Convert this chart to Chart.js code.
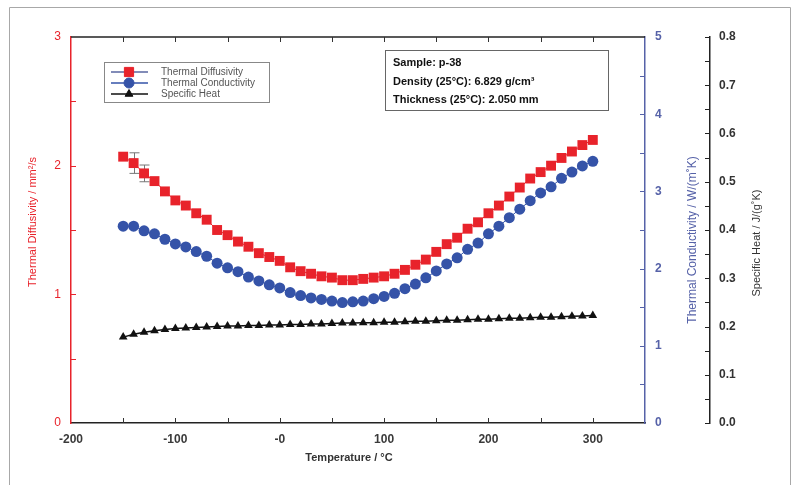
<!DOCTYPE html>
<html>
<head>
<meta charset="utf-8">
<script src="https://cdn.jsdelivr.net/npm/chart.js@4.4.0/dist/chart.umd.min.js"></script>
<style>
  html, body { margin: 0; padding: 0; background: #fff; }
  canvas { display: block; }
</style>
</head>
<body>
<canvas id="grafico" width="797" height="485"></canvas>
<script>
const temperaturas = [-150, -140, -130, -120, -110, -100, -90, -80, -70, -60, -50, -40, -30, -20, -10,
  0, 10, 20, 30, 40, 50, 60, 70, 80, 90, 100, 110, 120, 130, 140, 150, 160, 170, 180, 190,
  200, 210, 220, 230, 240, 250, 260, 270, 280, 290, 300];

const difusividade = [2.07, 2.02, 1.94, 1.88, 1.80, 1.73, 1.69, 1.63, 1.58, 1.50, 1.46, 1.41, 1.37, 1.32, 1.29,
  1.26, 1.21, 1.18, 1.16, 1.14, 1.13, 1.11, 1.11, 1.12, 1.13, 1.14, 1.16, 1.19, 1.23, 1.27, 1.33, 1.39, 1.44, 1.51, 1.56,
  1.63, 1.69, 1.76, 1.83, 1.90, 1.95, 2.00, 2.06, 2.11, 2.16, 2.20];

const condutividade = [2.55, 2.55, 2.49, 2.45, 2.38, 2.32, 2.28, 2.22, 2.16, 2.07, 2.01, 1.96, 1.89, 1.84, 1.79,
  1.75, 1.69, 1.65, 1.62, 1.60, 1.58, 1.56, 1.57, 1.58, 1.61, 1.64, 1.68, 1.74, 1.80, 1.88, 1.97, 2.06, 2.14, 2.25, 2.33,
  2.45, 2.55, 2.66, 2.77, 2.88, 2.98, 3.06, 3.17, 3.25, 3.33, 3.39];

const calorEspecifico = [0.178, 0.184, 0.188, 0.191, 0.194, 0.196, 0.197, 0.198, 0.199, 0.200, 0.201, 0.201, 0.202, 0.202, 0.203,
  0.203, 0.204, 0.204, 0.205, 0.205, 0.206, 0.207, 0.207, 0.208, 0.208, 0.209, 0.209, 0.210, 0.211, 0.211, 0.212, 0.213, 0.213, 0.214, 0.215,
  0.215, 0.216, 0.217, 0.217, 0.218, 0.219, 0.219, 0.220, 0.221, 0.222, 0.223];

// barras de erro da difusividade
const erroTemp = [-140, -130];
const erroValor = [0.08, 0.065];

const xTicks = [-200, -100, 0, 100, 200, 300];
const xTickLabels = ['-200', '-100', '-0', '100', '200', '300'];
const difTicks = [0, 1, 2, 3];
const condTicks = [0, 1, 2, 3, 4, 5];
const cpTicks = [0, 0.1, 0.2, 0.3, 0.4, 0.5, 0.6, 0.7, 0.8];
const cpTickLabels = ['0.0', '0.1', '0.2', '0.3', '0.4', '0.5', '0.6', '0.7', '0.8'];

const legenda = ['Thermal Diffusivity', 'Thermal Conductivity', 'Specific Heat'];
const infoAmostra = ['Sample: p-38', 'Density (25\u00b0C): 6.829 g/cm\u00b3', 'Thickness (25\u00b0C): 2.050 mm'];

const VERMELHO = '#e8232b';
const AZUL = '#3553a8';
const AZUL_EIXO = '#5662a8';
const FONTE = '"Liberation Sans", Arial, sans-serif';

function pontos(valores) {
  return temperaturas.map((t, i) => ({ x: t, y: valores[i] }));
}

function fixarTicks(lista) {
  return scale => { scale.ticks = lista.map(v => ({ value: v })); };
}

// ticks para dentro, moldura, titulos, legenda e caixa de texto
const desenhoExtra = {
  id: 'desenhoExtra',
  beforeDraw(chart) {
    const c = chart.ctx;
    c.save();
    c.strokeStyle = '#a8a8a8';
    c.lineWidth = 1;
    c.beginPath();
    c.moveTo(9.5, 485);
    c.lineTo(9.5, 7.5);
    c.lineTo(790.5, 7.5);
    c.lineTo(790.5, 485);
    c.stroke();
    c.restore();
  },
  beforeDatasetsDraw(chart) {
    const c = chart.ctx;
    const sx = chart.scales.x, sy = chart.scales.y;
    c.save();
    c.strokeStyle = '#777';
    c.lineWidth = 1;
    erroTemp.forEach((t, i) => {
      const v = difusividade[temperaturas.indexOf(t)];
      const px = Math.round(sx.getPixelForValue(t)) + 0.5;
      const y1 = sy.getPixelForValue(v + erroValor[i]);
      const y2 = sy.getPixelForValue(v - erroValor[i]);
      c.beginPath();
      c.moveTo(px, y1); c.lineTo(px, y2);
      c.moveTo(px - 5, y1); c.lineTo(px + 5, y1);
      c.moveTo(px - 5, y2); c.lineTo(px + 5, y2);
      c.stroke();
    });
    c.restore();
  },
  afterDraw(chart) {
    const c = chart.ctx;
    const a = chart.chartArea;
    const sx = chart.scales.x, sy = chart.scales.y, sk = chart.scales.y1, sc = chart.scales.y2;
    c.save();

    // linha superior
    c.strokeStyle = '#222';
    c.lineWidth = 1.5;
    c.beginPath();
    c.moveTo(a.left, a.top); c.lineTo(a.right, a.top);
    c.stroke();

    // ticks eixo x (baixo e cima)
    c.lineWidth = 1;
    c.strokeStyle = '#333';
    c.beginPath();
    for (let v = -150; v < 350; v += 50) {
      const px = Math.round(sx.getPixelForValue(v)) + 0.5;
      c.moveTo(px, a.bottom); c.lineTo(px, a.bottom - 5);
      c.moveTo(px, a.top); c.lineTo(px, a.top + 5);
    }
    c.stroke();

    // ticks esquerda
    c.strokeStyle = VERMELHO;
    c.beginPath();
    for (let v = 0.5; v < 3; v += 0.5) {
      const py = Math.round(sy.getPixelForValue(v)) + 0.5;
      c.moveTo(a.left, py); c.lineTo(a.left + 5, py);
    }
    c.stroke();

    // ticks azul
    c.strokeStyle = AZUL_EIXO;
    c.beginPath();
    for (let v = 0.5; v < 5; v += 0.5) {
      const py = Math.round(sk.getPixelForValue(v)) + 0.5;
      c.moveTo(sk.left, py); c.lineTo(sk.left - 5, py);
    }
    c.stroke();

    // ticks calor especifico
    c.strokeStyle = '#222';
    c.beginPath();
    for (let i = 0; i <= 16; i++) {
      const py = Math.round(sc.getPixelForValue(i * 0.05)) + 0.5;
      c.moveTo(sc.left, py); c.lineTo(sc.left - 5, py);
    }
    c.stroke();

    // titulos
    c.textAlign = 'center';
    c.textBaseline = 'middle';
    c.fillStyle = '#333';
    c.font = 'bold 11px ' + FONTE;
    c.fillText('Temperature / \u00b0C', 349, 458);

    c.save();
    c.translate(33, 222);
    c.rotate(-Math.PI / 2);
    c.fillStyle = VERMELHO;
    c.font = '11px ' + FONTE;
    c.fillText('Thermal Diffusivity / mm\u00b2/s', 0, 0);
    c.restore();

    c.save();
    c.translate(693, 240);
    c.rotate(-Math.PI / 2);
    c.fillStyle = AZUL_EIXO;
    c.font = '12px ' + FONTE;
    c.fillText('Thermal Conductivity / W/(m\u02daK)', 0, 0);
    c.restore();

    c.save();
    c.translate(757, 243);
    c.rotate(-Math.PI / 2);
    c.fillStyle = '#333';
    c.font = '11px ' + FONTE;
    c.fillText('Specific Heat / J/(g\u02daK)', 0, 0);
    c.restore();

    // legenda
    c.strokeStyle = '#888';
    c.lineWidth = 1;
    c.strokeRect(104.5, 62.5, 165, 40);
    const linhas = ['#5866a0', AZUL, '#111'];
    const estilos = ['rect', 'circle', 'triangle'];
    const cores = [VERMELHO, AZUL, '#111'];
    const raios = [6.5, 5, 4.5];
    legenda.forEach((txt, i) => {
      const py = 72 + i * 11;
      c.strokeStyle = linhas[i];
      c.lineWidth = 1.5;
      c.beginPath();
      c.moveTo(111, py); c.lineTo(148, py);
      c.stroke();
      c.fillStyle = cores[i];
      c.strokeStyle = cores[i];
      c.lineWidth = 1;
      Chart.helpers.drawPoint(c, { pointStyle: estilos[i], radius: raios[i], borderWidth: 1 }, 129, py);
      c.fillStyle = '#555';
      c.font = '10px ' + FONTE;
      c.textAlign = 'left';
      c.fillText(txt, 161, py);
    });

    // caixa de informacoes
    c.strokeStyle = '#666';
    c.lineWidth = 1;
    c.strokeRect(385.5, 50.5, 223, 60);
    c.fillStyle = '#111';
    c.font = 'bold 11px ' + FONTE;
    infoAmostra.forEach((txt, i) => {
      c.fillText(txt, 393, 63 + i * 18.5);
    });

    c.restore();
  }
};

const ctx = document.getElementById('grafico').getContext('2d');
const grafico = new Chart(ctx, {
  type: 'line',
  data: {
    datasets: [{
      label: legenda[0],
      data: pontos(difusividade),
      yAxisID: 'y',
      borderColor: VERMELHO,
      backgroundColor: VERMELHO,
      borderWidth: 1,
      pointStyle: 'rect',
      pointRadius: 7,
      pointBorderWidth: 0
    }, {
      label: legenda[1],
      data: pontos(condutividade),
      yAxisID: 'y1',
      borderColor: AZUL,
      backgroundColor: AZUL,
      borderWidth: 1,
      pointStyle: 'circle',
      pointRadius: 5.5,
      pointBorderWidth: 0
    }, {
      label: legenda[2],
      data: pontos(calorEspecifico),
      yAxisID: 'y2',
      borderColor: '#111',
      backgroundColor: '#111',
      borderWidth: 1.5,
      pointStyle: 'triangle',
      pointRadius: 5,
      pointBorderWidth: 0
    }]
  },
  options: {
    responsive: false,
    animation: false,
    devicePixelRatio: 1,
    layout: { padding: { top: 37, left: 0, right: 0, bottom: 0 } },
    plugins: { legend: { display: false }, tooltip: { enabled: false } },
    scales: {
      x: {
        type: 'linear',
        position: 'bottom',
        min: -200,
        max: 350,
        afterBuildTicks: fixarTicks(xTicks),
        afterFit: s => { s.height = 62; },
        ticks: {
          color: '#3a3a3a',
          font: { family: FONTE, size: 12, weight: 'bold' },
          padding: 1,
          maxRotation: 0,
          callback: v => xTickLabels[xTicks.indexOf(v)]
        },
        grid: { display: false },
        border: { color: '#222', width: 1.5 }
      },
      y: {
        position: 'left',
        min: 0,
        max: 3,
        afterBuildTicks: fixarTicks(difTicks),
        afterFit: s => { s.width = 71; },
        ticks: {
          color: VERMELHO,
          font: { family: FONTE, size: 12 },
          padding: 2
        },
        grid: { display: false },
        border: { color: VERMELHO, width: 1.5 }
      },
      y1: {
        position: 'right',
        min: 0,
        max: 5,
        afterBuildTicks: fixarTicks(condTicks),
        afterFit: s => { s.width = 65; },
        ticks: {
          color: AZUL_EIXO,
          font: { family: FONTE, size: 12, weight: 'bold' },
          padding: 2
        },
        grid: { display: false },
        border: { color: AZUL_EIXO, width: 1.5 }
      },
      y2: {
        position: 'right',
        min: 0,
        max: 0.8,
        afterBuildTicks: fixarTicks(cpTicks),
        afterFit: s => { s.width = 87; },
        ticks: {
          color: '#333',
          font: { family: FONTE, size: 12, weight: 'bold' },
          padding: 1,
          callback: v => cpTickLabels[cpTicks.indexOf(v)]
        },
        grid: { display: false },
        border: { color: '#222', width: 1.5 }
      }
    }
  },
  plugins: [desenhoExtra]
});
</script>
</body>
</html>
